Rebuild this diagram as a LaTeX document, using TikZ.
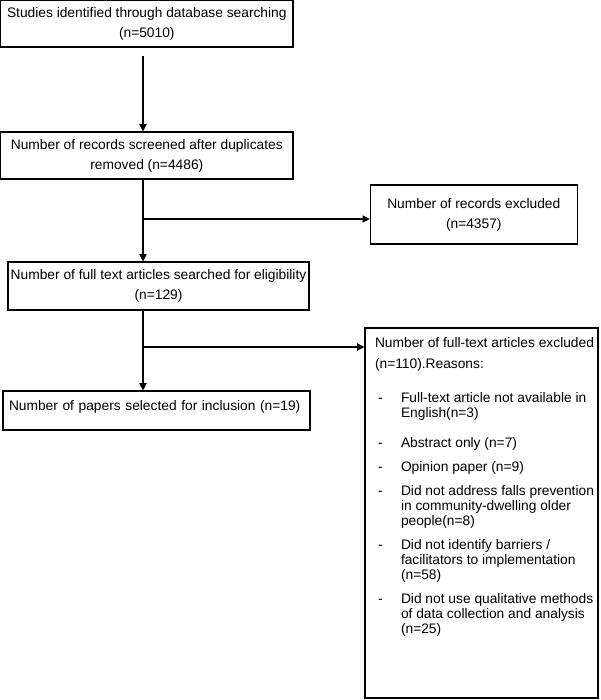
\documentclass[tikz,border=0pt]{standalone}
\usepackage{fontspec}
\setmainfont{Liberation Sans}
\usetikzlibrary{arrows.meta, positioning, calc}

% one excluded reason with a dash and hanging lines
\newcommand{\reason}[2][6.4pt]{\par\vspace{#1}\hangindent=0.65cm\hangafter=1\noindent\makebox[0.65cm][l]{\hspace{0.075cm}-}#2\par}

\begin{document}
\begin{tikzpicture}[
        stagebox/.style={rectangle, draw, line width=0.8pt, inner sep=1pt,
                         font=\fontsize{9.8}{14.2}\selectfont, align=center},
        listbox/.style={rectangle, draw, line width=0.8pt, inner xsep=0pt, inner ysep=0.25cm,
                        font=\fontsize{9.8}{10.7}\selectfont},
        arr/.style={-{Triangle[length=0.18cm, width=0.18cm]}, line width=0.8pt}
    ]
        \useasboundingbox (0,0) rectangle (15,-17.5);

        % Main column of stages
        \node [stagebox, minimum width=7.31cm, minimum height=1.16cm] (found) at (3.67,-0.595)
            {Studies identified through database searching\\(n=5010)};
        \node [stagebox, minimum width=7.31cm, minimum height=1.175cm] (screened) at (3.67,-3.8875)
            {Number of records screened after duplicates\\removed (n=4486)};
        \node [stagebox, minimum width=7.525cm, minimum height=1.2cm] (eligible) at (3.9625,-7.15)
            {Number of full text articles searched for eligibility\\(n=129)};
        \node [stagebox, align=left, text width=7.375cm, inner xsep=0.15cm, inner ysep=0pt,
               text height=0.475cm, text depth=0.5cm] (included) at (3.9125,-10.2625)
            {Number of papers selected for inclusion (n=19)};

        % Side boxes for exclusions
        \node [stagebox, minimum width=5.175cm, minimum height=1.475cm] (recout) at (11.845,-5.3625)
            {Number of records excluded\\(n=4357)};
        \node [listbox] (fulltextout) at (12.0375,-12.825) {%
            \begin{minipage}[t][8.75cm][t]{5.825cm}
            \leftskip=0.25cm \rightskip=0pt plus 1fil
            Number of full-text articles excluded\\[4.2pt]
            (n=110).Reasons:\par\vspace{7pt}
            \reason{Full-text article not available in\\English(n=3)}
            \reason[10.4pt]{Abstract only (n=7)}
            \reason{Opinion paper (n=9)}
            \reason{Did not address falls prevention\\in community-dwelling older\\people(n=8)}
            \reason{Did not identify barriers /\\facilitators to implementation\\(n=58)}
            \reason{Did not use qualitative methods\\of data collection and analysis\\(n=25)}
            \end{minipage}};

        % Spine of the flow and the two forks
        \coordinate (spine) at (3.575,0);
        \coordinate (fork1) at (3.575,-5.475);
        \coordinate (fork2) at (3.575,-8.675);

        \draw[arr, shorten <=0.2cm] (found.south -| spine) -- (screened.north -| spine);
        \draw[arr] (screened.south -| spine) -- (eligible.north -| spine);
        \draw[arr] (eligible.south -| spine) -- (included.north -| spine);

        \draw[arr] (fork1) -- (fork1 -| recout.west);
        \draw[arr] (fork2) -- (fork2 -| fulltextout.west);
    \end{tikzpicture}
\end{document}
